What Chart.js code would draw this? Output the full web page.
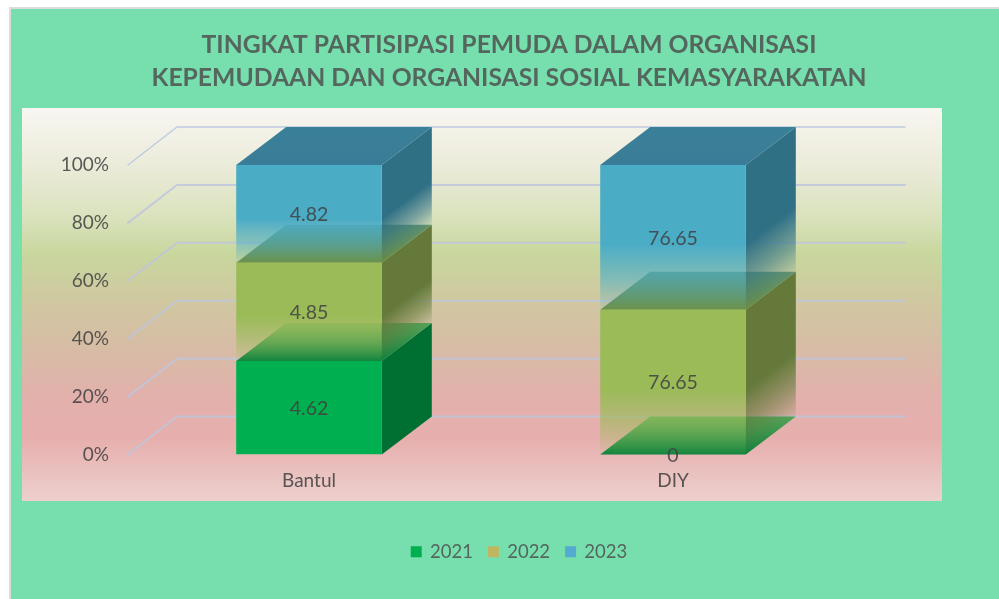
<!DOCTYPE html>
<html>
<head>
<meta charset="utf-8">
<script src="https://cdn.jsdelivr.net/npm/chart.js@4"></script>
<style>html,body{margin:0;padding:0;background:#fff}canvas{display:block}</style>
</head>
<body>
<canvas id="c" width="999" height="599"></canvas>
<script>
const categories = ['Bantul', 'DIY'];
const years = ['2021', '2022', '2023'];
const values2021 = [4.62, 0];
const values2022 = [4.85, 76.65];
const values2023 = [4.82, 76.65];
const yTicks = [0, 20, 40, 60, 80, 100];
const titleLines = ['TINGKAT PARTISIPASI PEMUDA DALAM ORGANISASI', 'KEPEMUDAAN DAN ORGANISASI SOSIAL KEMASYARAKATAN'];

const rawSeries = [values2021, values2022, values2023];
const totals = categories.map((_, j) => rawSeries.reduce((s, a) => s + a[j], 0));
const shares = rawSeries.map(a => a.map((v, j) => v / totals[j] * 100));

const DX = 50, DY = -38;
const FRONT = [[0,176,80],[155,187,89],[75,172,198]];
const SIDE  = [[0,112,50],[100,121,58],[47,112,133]];
const TOP_NEAR = [[8,128,60],[110,143,64],[58,124,151]];
const TOP_FAR  = [[84,168,92],[100,150,110],[58,128,152]];
const SWATCH = ['#00B050', '#BFB75F', '#55ABCF'];
const TEXT = 'rgba(64,64,64,0.85)';
const FONT = 'Lato';

const rgba = (c, a) => `rgba(${c[0]},${c[1]},${c[2]},${a})`;
function fadeStops(g, c, i) {
  g.addColorStop(0, rgba(c, 1));
  if (i === 0) { g.addColorStop(1, rgba(c, 1)); return g; }
  g.addColorStop(0.55, rgba(c, 1));
  g.addColorStop(0.8, rgba(c, 0.55));
  g.addColorStop(1, rgba(c, 0.08));
  return g;
}
function frontFill(ctx) {
  const chart = ctx.chart, i = ctx.datasetIndex, j = ctx.dataIndex, y = chart.scales.y;
  let cum = 0;
  for (let k = 0; k < i; k++) cum += shares[k][j];
  const bottom = y.getPixelForValue(cum), top = y.getPixelForValue(cum + shares[i][j]);
  const g = chart.ctx.createLinearGradient(0, top, 0, Math.max(bottom, top + 1));
  return fadeStops(g, FRONT[i], i);
}

const threeD = {
  id: 'threeD',
  afterLayout(chart) {
    chart.legend.left += 92; chart.legend.right += 92;
    chart.legend.top -= 28; chart.legend.bottom -= 28;
    chart.titleBlock.left += 81.5; chart.titleBlock.right += 81.5;
  },
  beforeDraw(chart) {
    const c = chart.ctx;
    c.save();
    c.fillStyle = '#ffffff'; c.fillRect(0, 0, 999, 599);
    c.fillStyle = '#dcdcdc'; c.fillRect(9, 7, 990, 592);
    c.fillStyle = '#77DFAD'; c.fillRect(11, 9, 988, 590);
    const g = c.createLinearGradient(0, 108, 0, 501);
    [[0,'#F8F6F1'],[0.15,'#EBEBD9'],[0.28,'#D9E2BC'],[0.37,'#C8D79E'],[0.48,'#CFC9A0'],[0.6,'#D6BDA5'],[0.74,'#E3B0AC'],[0.84,'#E6AFAD'],[1,'#EDD0CE']]
      .forEach(s => g.addColorStop(s[0], s[1]));
    c.fillStyle = g; c.fillRect(22, 108, 920, 393);
    c.restore();
  },
  beforeDatasetsDraw(chart) {
    const c = chart.ctx, y = chart.scales.y, a = chart.chartArea;
    c.save();
    c.lineCap = 'round';
    yTicks.forEach(v => {
      const p = y.getPixelForValue(v);
      c.beginPath();
      c.moveTo(a.left + 1, p);
      c.lineTo(a.left + DX, p + DY);
      c.lineTo(a.right + DX, p + DY);
      c.strokeStyle = v === 100 ? 'rgba(185,198,225,0.9)' : 'rgba(190,198,220,0.85)';
      c.lineWidth = v === 100 ? 1.3 : 2;
      c.stroke();
    });
    // side and top faces, lowest segment first, beneath every front face
    chart.data.datasets.forEach((ds, i) => {
      chart.getDatasetMeta(i).data.forEach(b => {
        const p = b.getProps(['x', 'y', 'base', 'width'], true);
        const l = p.x - p.width / 2, r = p.x + p.width / 2, t = p.y, h = p.base - p.y;
        if (h > 0.5) {
          const n = 0.796;
          const g = c.createLinearGradient(r, t, r + 0.605 * h * n, t + n * h * n);
          c.fillStyle = fadeStops(g, SIDE[i], i);
          c.beginPath();
          c.moveTo(r, t); c.lineTo(r + DX, t + DY); c.lineTo(r + DX, p.base + DY); c.lineTo(r, p.base);
          c.closePath(); c.fill();
        }
        const g2 = c.createLinearGradient(0, t, 0, t + DY);
        g2.addColorStop(0, rgba(TOP_NEAR[i], 1));
        g2.addColorStop(1, rgba(TOP_FAR[i], 1));
        c.fillStyle = g2;
        c.beginPath();
        c.moveTo(l, t); c.lineTo(r, t); c.lineTo(r + DX, t + DY); c.lineTo(l + DX, t + DY);
        c.closePath(); c.fill();
      });
    });
    c.restore();
  },
  afterDatasetsDraw(chart) {
    const c = chart.ctx;
    c.save();
    c.font = `19.5px ${FONT}`; c.textAlign = 'center'; c.textBaseline = 'middle';
    c.fillStyle = TEXT;
    chart.data.datasets.forEach((ds, i) => {
      chart.getDatasetMeta(i).data.forEach((b, j) => {
        const p = b.getProps(['x', 'y', 'base'], true);
        c.fillText(String(rawSeries[i][j]), p.x, (p.y + p.base) / 2 + 1);
      });
    });
    c.restore();
  }
};

new Chart(document.getElementById('c'), {
  type: 'bar',
  plugins: [threeD],
  data: {
    labels: categories,
    datasets: years.map((yr, i) => ({
      label: yr,
      data: shares[i],
      backgroundColor: frontFill,
      borderWidth: 0,
      barPercentage: 0.4,
      categoryPercentage: 1
    }))
  },
  options: {
    responsive: false,
    animation: false,
    devicePixelRatio: 1,
    layout: { padding: { left: 0, right: 144, top: 0, bottom: 0 } },
    plugins: {
      tooltip: { enabled: false },
      title: {
        display: true,
        text: titleLines,
        color: '#54665E',
        font: { family: FONT, size: 24.7, weight: 'bold', lineHeight: 1.336 },
        padding: { top: 29, bottom: 70 }
      },
      legend: {
        position: 'bottom',
        labels: {
          boxWidth: 9, boxHeight: 9, padding: 16,
          color: '#54665E',
          font: { family: FONT, size: 18.5 },
          generateLabels: () => years.map((yr, i) => ({
            text: yr, fillStyle: SWATCH[i], strokeStyle: SWATCH[i], lineWidth: 2, datasetIndex: i, fontColor: '#54665E'
          }))
        }
      }
    },
    scales: {
      x: {
        stacked: true,
        grid: { display: false, drawTicks: false },
        border: { display: false },
        ticks: { color: TEXT, font: { family: FONT, size: 19 }, padding: 15, maxRotation: 0 },
        afterFit(s) { s.height = 100; }
      },
      y: {
        stacked: true,
        min: 0, max: 100,
        grid: { display: false, drawTicks: false },
        border: { display: false },
        afterBuildTicks(s) { s.ticks = yTicks.map(v => ({ value: v })); },
        ticks: { color: TEXT, font: { family: FONT, size: 19 }, padding: 18, callback: v => v + '%' },
        afterFit(s) { s.width = 127; }
      }
    }
  }
});
</script>
</body>
</html>
